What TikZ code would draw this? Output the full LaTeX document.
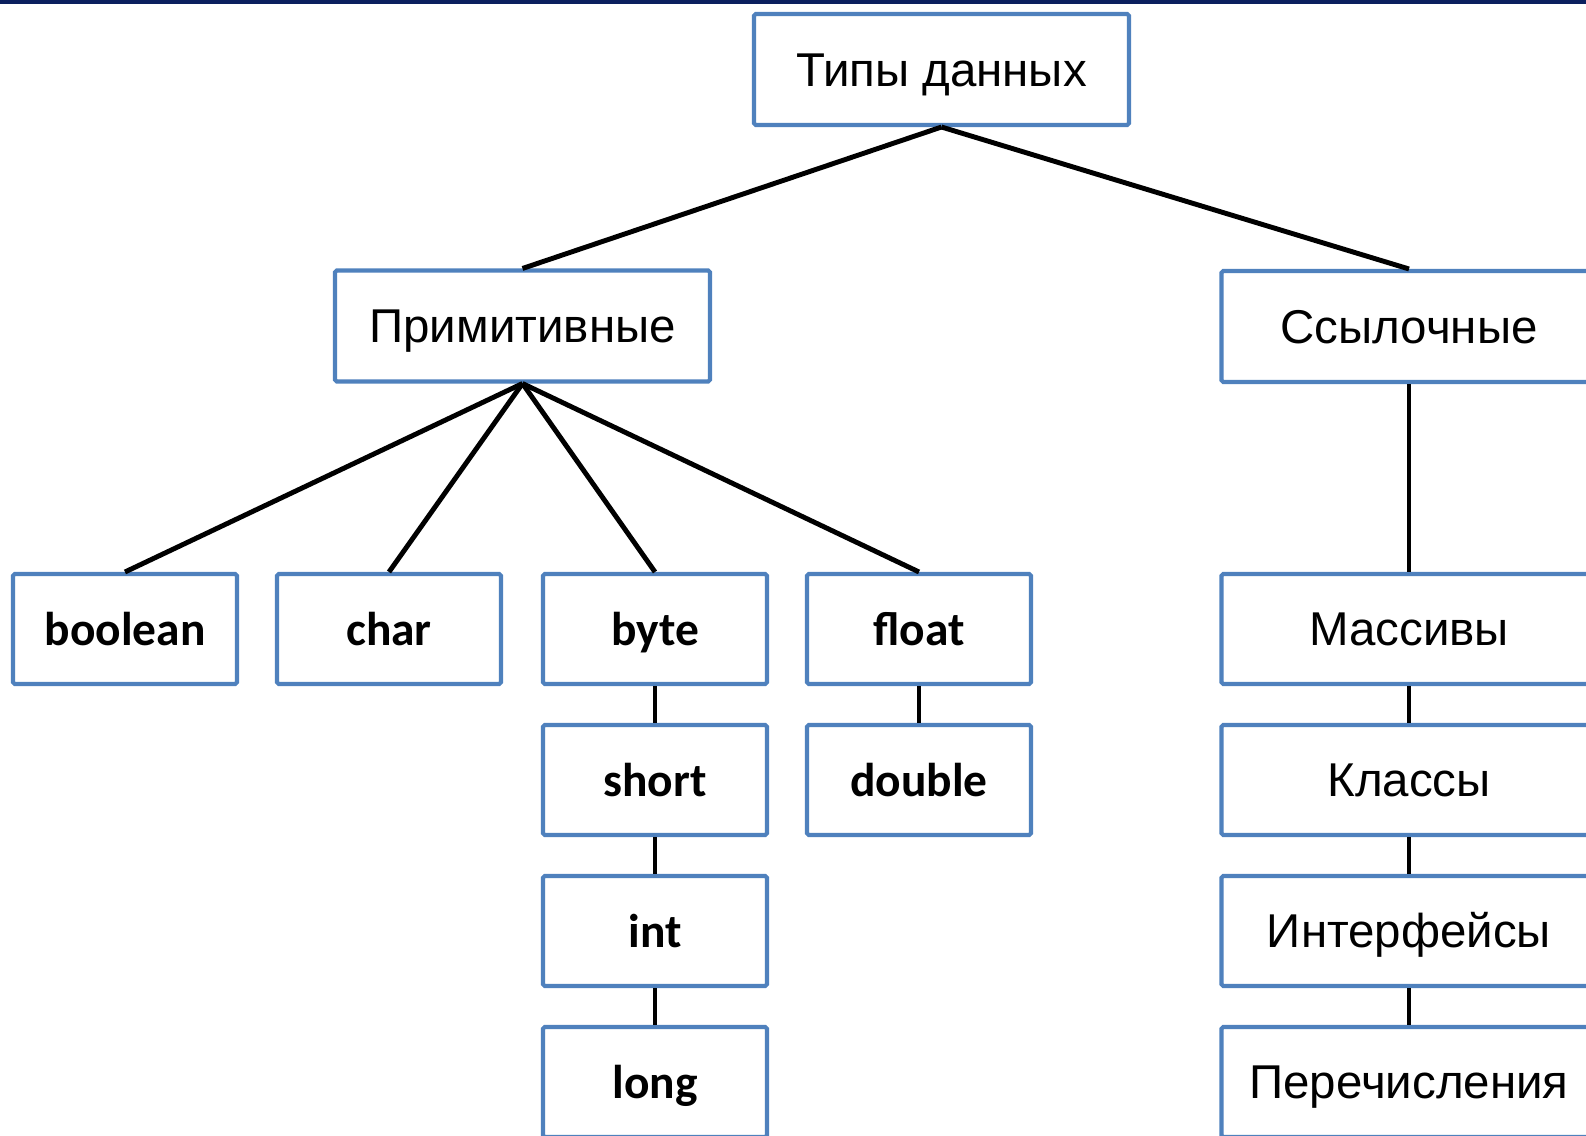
\documentclass[tikz,border=0pt]{standalone}
\usepackage{fontspec}
\setmainfont{Liberation Sans}
\newfontfamily\boldcal{Carlito}
\usepackage{tikz}

\definecolor{boxblue}{HTML}{4F81BD}
\definecolor{topnavy}{HTML}{0B1F5E}

\tikzset{
  kind/.style={draw=boxblue, line width=2.3pt, rounded corners=1pt, fill=white, minimum width=7.5cm, minimum height=2.22cm,
    inner sep=0pt, text height=19.3pt, text depth=0pt, font=\fontsize{27}{32}\selectfont},
  prim/.style={kind, minimum width=4.48cm, minimum height=2.2cm, text height=18.6pt,
    font=\boldcal\bfseries\fontsize{27}{32}\selectfont},
  link/.style={line width=2.8pt}
}

\begin{document}
\begin{tikzpicture}
    \useasboundingbox (0,0) rectangle (31.72,-22.72);
    \clip (0,0) rectangle (31.72,-22.72);
    \fill[topnavy] (0,0) rectangle (31.72,-0.09);

    % root and the two groups
    \node[kind] (types) at (18.83,-1.39) {Типы данных};
    \node[kind] (prim) at (10.45,-6.52) {Примитивные};
    \node[kind] (ref) at (28.18,-6.53) {Ссылочные};

    % primitive types
    \foreach \x/\name/\txt in {2.5/bool/boolean, 7.78/chr/char, 13.1/byte/byte, 18.38/flt/float}
      \node[prim] (\name) at (\x,-12.58) {\txt};
    \node[prim] (short) at (13.1,-15.6) {short};
    \node[prim] (int) at (13.1,-18.62) {int};
    \node[prim] (long) at (13.1,-21.64) {long};
    \node[prim] (dbl) at (18.38,-15.6) {double};

    % reference types
    \foreach \y/\name/\txt in {-12.58/arr/Массивы, -15.6/cls/Классы, -18.62/intf/Интерфейсы, -21.64/enm/Перечисления}
      \node[kind, minimum height=2.2cm] (\name) at (28.18,\y) {\txt};

    \draw[link] (types.south) -- (prim.north);
    \draw[link] (types.south) -- (ref.north);
    \foreach \n in {bool,chr,byte,flt}
      \draw[link] (prim.south) -- (\n.north);
    \foreach \a/\b in {byte/short, short/int, int/long, flt/dbl, ref/arr, arr/cls, cls/intf, intf/enm}
      \draw[link] (\a.south) -- (\b.north);
\end{tikzpicture}
\end{document}
